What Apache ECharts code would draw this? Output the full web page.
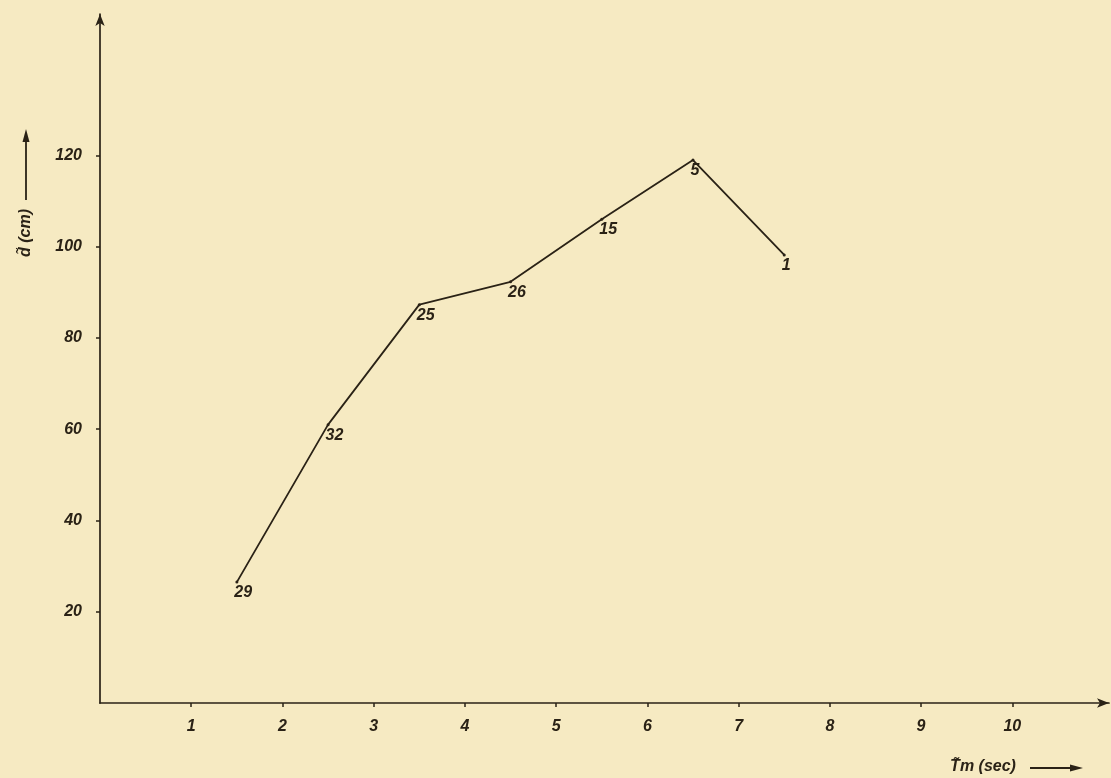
<!DOCTYPE html>
<html>
<head>
<meta charset="utf-8">
<script src="https://cdn.jsdelivr.net/npm/echarts@6/dist/echarts.min.js"></script>
<style>
html,body{margin:0;padding:0;background:#f6eac2;}
#chart{width:1111px;height:778px;}
</style>
</head>
<body>
<div id="chart"></div>
<script>
var tmSec = [1.5, 2.5, 3.5, 4.5, 5.5, 6.5, 7.5];
var dCm = [26.5, 61, 87.3, 92.3, 106, 119, 98.2];
var counts = ['29', '32', '25', '26', '15', '5', '1'];
var xTicks = [1, 2, 3, 4, 5, 6, 7, 8, 9, 10];
var yTicks = [20, 40, 60, 80, 100, 120];

var ink = '#2a2216';
var fontFam = '"Liberation Sans", Arial, sans-serif';

var chart = echarts.init(document.getElementById('chart'), null, {renderer: 'canvas'});
var data = tmSec.map(function (x, i) { return [x, dCm[i], counts[i]]; });

chart.setOption({
  backgroundColor: '#f6eac2',
  animation: false,
  grid: {left: 100, right: 2, top: 14, bottom: 75, containLabel: false},
  xAxis: {
    type: 'value', min: 0, max: 11.06, interval: 1,
    axisLine: {show: true, lineStyle: {color: ink, width: 1.7}, symbol: ['none', 'arrow'], symbolSize: [7, 12]},
    axisTick: {show: true, customValues: xTicks, length: 4, inside: false, lineStyle: {color: ink, width: 1.5}},
    axisLabel: {customValues: xTicks, margin: 16, color: ink, fontSize: 16, fontStyle: 'italic', fontWeight: 'bold', fontFamily: fontFam},
    splitLine: {show: false}
  },
  yAxis: {
    type: 'value', min: 0, max: 151, interval: 10,
    axisLine: {show: true, lineStyle: {color: ink, width: 1.7}, symbol: ['none', 'arrow'], symbolSize: [7, 12]},
    axisTick: {show: true, customValues: yTicks, length: 4, inside: false, lineStyle: {color: ink, width: 1.5}},
    axisLabel: {customValues: yTicks, margin: 18, color: ink, fontSize: 16, fontStyle: 'italic', fontWeight: 'bold', fontFamily: fontFam},
    splitLine: {show: false}
  },
  series: [{
    type: 'line',
    data: data,
    symbol: 'circle',
    symbolSize: 3,
    itemStyle: {color: ink},
    lineStyle: {color: ink, width: 1.8},
    label: {
      show: true,
      position: [-1, 4],
      align: 'left',
      verticalAlign: 'top',
      formatter: function (p) { return p.data[2]; },
      color: ink, fontSize: 16, fontStyle: 'italic', fontWeight: 'bold', fontFamily: fontFam
    }
  }],
  graphic: [
    {
      type: 'text', x: 26, y: 233, rotation: Math.PI / 2,
      style: {text: 'd\u0303 (cm)', fill: ink, font: 'italic bold 16px ' + fontFam, align: 'center', verticalAlign: 'middle'}
    },
    {
      type: 'line', shape: {x1: 26, y1: 200, x2: 26, y2: 138},
      style: {stroke: ink, lineWidth: 1.8}
    },
    {
      type: 'polygon', shape: {points: [[22.5, 142], [29.5, 142], [26, 129]]},
      style: {fill: ink}
    },
    {
      type: 'text', x: 983, y: 767,
      style: {text: 'T\u0303m (sec)', fill: ink, font: 'italic bold 16px ' + fontFam, align: 'center', verticalAlign: 'middle'}
    },
    {
      type: 'line', shape: {x1: 1030, y1: 768, x2: 1072, y2: 768},
      style: {stroke: ink, lineWidth: 1.8}
    },
    {
      type: 'polygon', shape: {points: [[1070, 764.5], [1070, 771.5], [1083, 768]]},
      style: {fill: ink}
    }
  ]
});
</script>
</body>
</html>
